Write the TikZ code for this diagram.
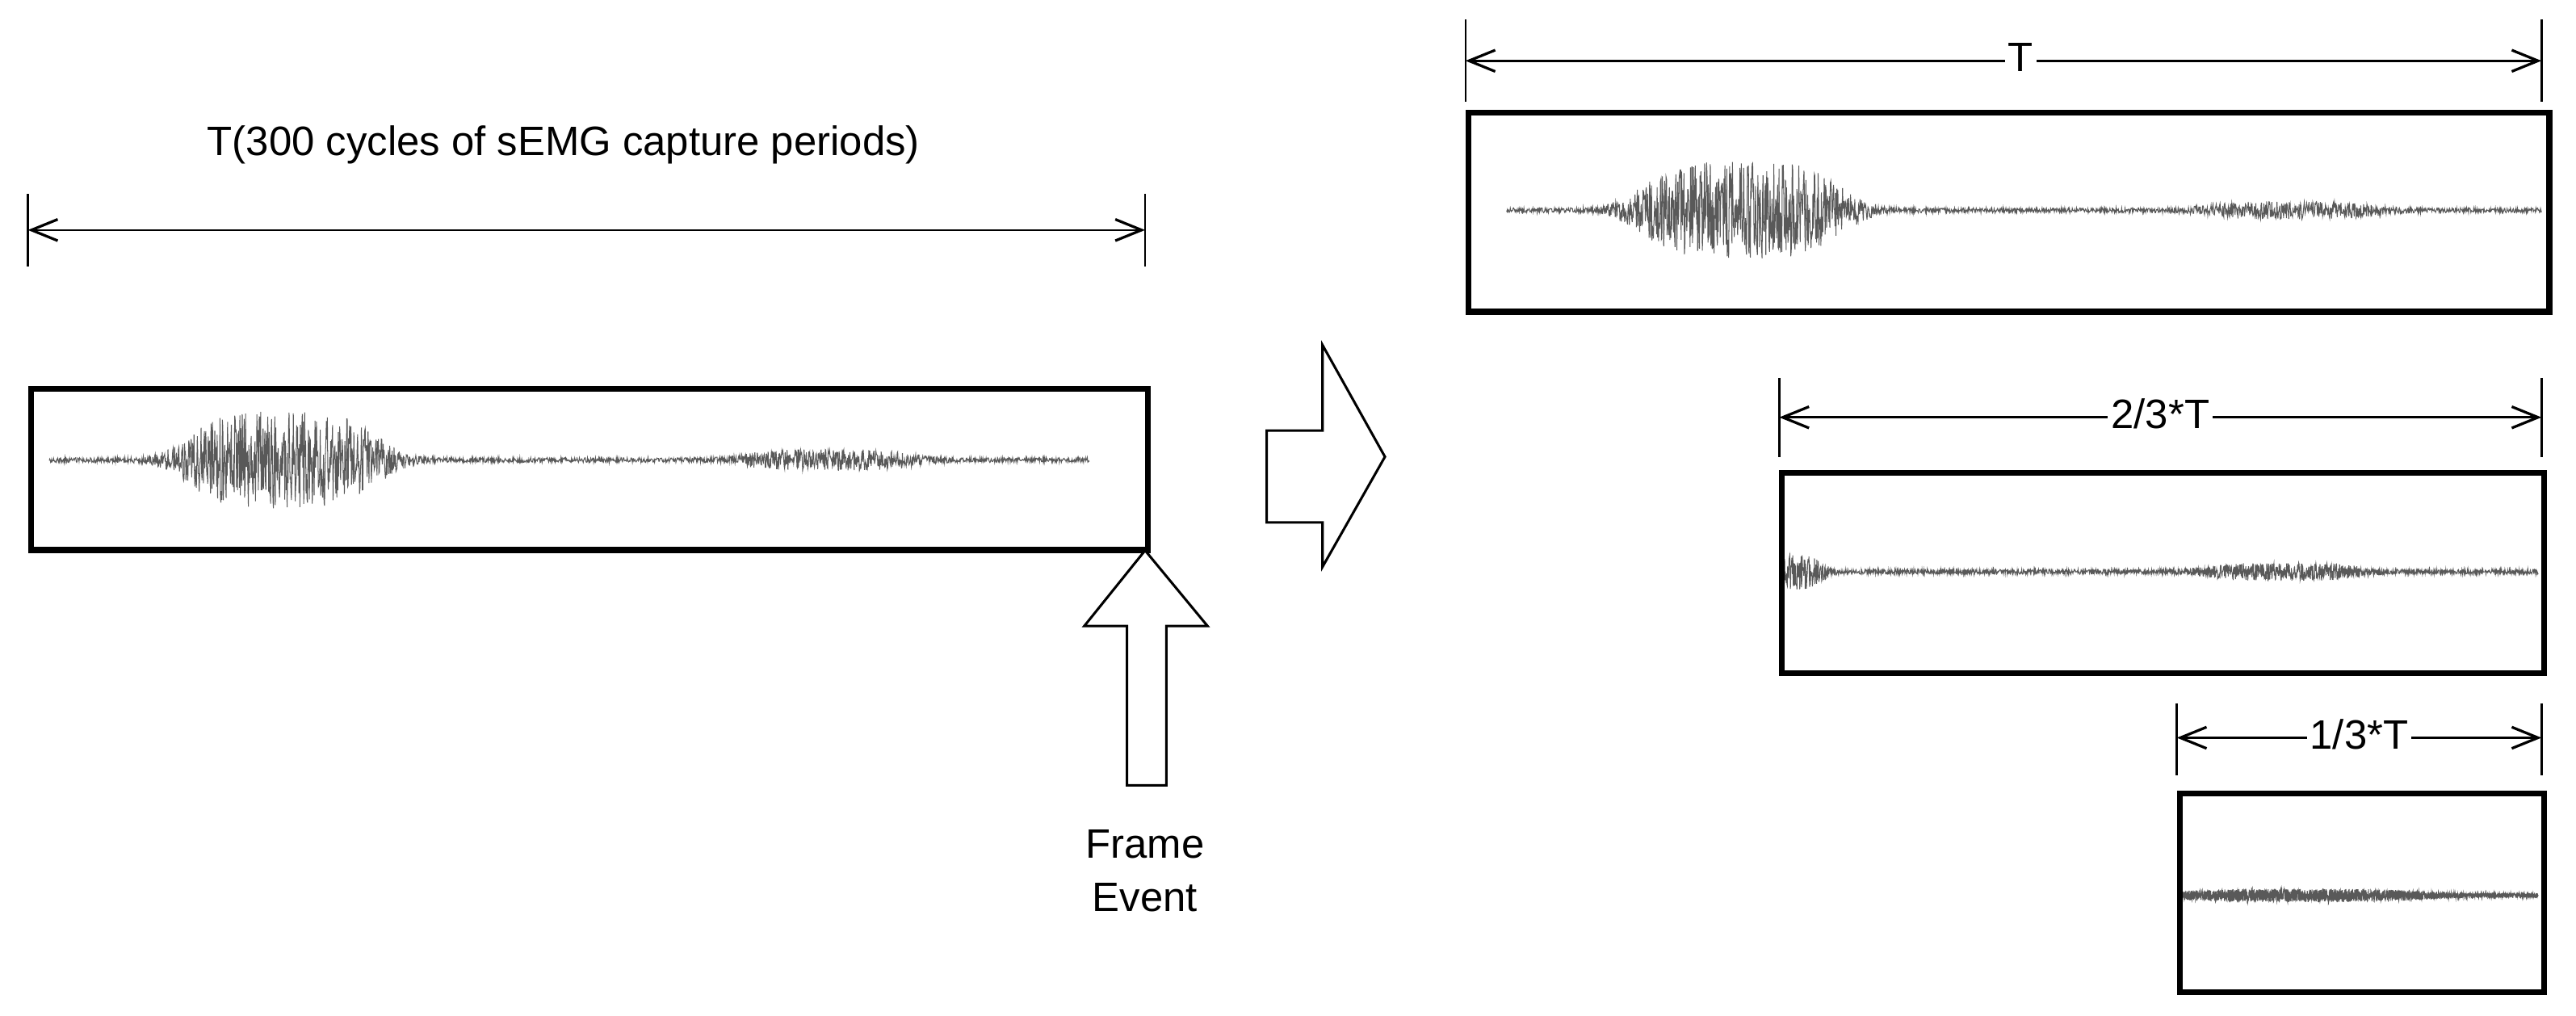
\documentclass[tikz,border=0pt]{standalone}
\usepackage{fontspec}
\setmainfont{Liberation Sans}
\usetikzlibrary{arrows.meta}
\tikzset{
  box/.style={draw=black,line width=3.5pt},
  dim/.style={line width=1.3pt,{Straight Barb[length=16pt,width=13pt,line width=1.6pt]}-{Straight Barb[length=16pt,width=13pt,line width=1.6pt]}},
  tick/.style={line width=1.2pt},
  lbl/.style={font=\fontsize{25}{29}\selectfont,fill=white,inner sep=2pt},
  sig/.style={draw=black!65,line width=0.5pt},
  block/.style={draw=black,line width=1.5pt,fill=white,line join=miter}
}
% \emgsig{x0}{x1}{y}{a1}{c1}{w1}{a2}{c2}{w2}
\newcommand{\emgsig}[9]{%
  \draw[sig] plot[domain=#1:#2,samples=2200] (\x,{#3+(1.5+#4*exp(-(min(((\x-#5)/#6)^2,20))^2)+#7*exp(-(min(((\x-#8)/#9)^2,20))^2))*rand});
}
\begin{document}
\begin{tikzpicture}[x=1pt,y=-1pt]
\pgfmathsetseed{7}
\useasboundingbox (0,0) rectangle (1568,618);
% left
\node[lbl] (ltitle) at (343,88) {T(300 cycles of sEMG capture periods)};
\coordinate (la) at (17,140); \coordinate (lb) at (697,140);
\draw[tick] (17,118) -- (17,162); \draw[tick] (697,118) -- (697,162);
\draw[dim] (la) -- (lb);
\emgsig{30}{663}{280}{28}{172}{62}{5}{505}{55}
\node[box,minimum width=680pt,minimum height=98pt,inner sep=0pt,anchor=north west] (lbox) at (17,235) {};
% up arrow
\draw[block] (697,335) -- (735,381) -- (710,381) -- (710,478) -- (686,478) -- (686,381) -- (660,381) -- cycle;
\node[font=\fontsize{25}{32}\selectfont,align=center] (fe) at (697,530) {Frame\\Event};
% right block arrow
\draw[block] (771,262) -- (805,262) -- (805,210) -- (843,278) -- (805,345) -- (805,318) -- (771,318) -- cycle;
% top right
\draw[tick] (892,12) -- (892,62); \draw[tick] (1547,12) -- (1547,62);
\coordinate (ta) at (892,37); \coordinate (tb) at (1547,37);
\draw[dim] (ta) -- (tb);
\node[lbl] (tl) at (1230,35) {T};
\emgsig{917}{1547}{128}{28}{1060}{65}{4}{1395}{55}
\node[box,minimum width=658pt,minimum height=121pt,inner sep=0pt,anchor=north west] (tbox) at (892,67) {};
% middle
\draw[tick] (1083,230) -- (1083,278); \draw[tick] (1547,230) -- (1547,278);
\coordinate (ma) at (1083,254); \coordinate (mb) at (1547,254);
\draw[dim] (ma) -- (mb);
\node[lbl] (ml) at (1315,252) {2/3*T};
\emgsig{1085}{1545}{348}{10}{1085}{25}{4}{1390}{50}
\node[box,minimum width=464pt,minimum height=122pt,inner sep=0pt,anchor=north west] (mbox) at (1083,286) {};
% bottom
\draw[tick] (1325,428) -- (1325,472); \draw[tick] (1547,428) -- (1547,472);
\coordinate (ba) at (1325,449); \coordinate (bb) at (1547,449);
\draw[dim] (ba) -- (bb);
\node[lbl] (bl) at (1436,447) {1/3*T};
\emgsig{1327}{1545}{545}{2.5}{1400}{80}{0}{1400}{40}
\node[box,minimum width=222pt,minimum height=121pt,inner sep=0pt,anchor=north west] (bbox) at (1325,481) {};
\end{tikzpicture}
\end{document}
